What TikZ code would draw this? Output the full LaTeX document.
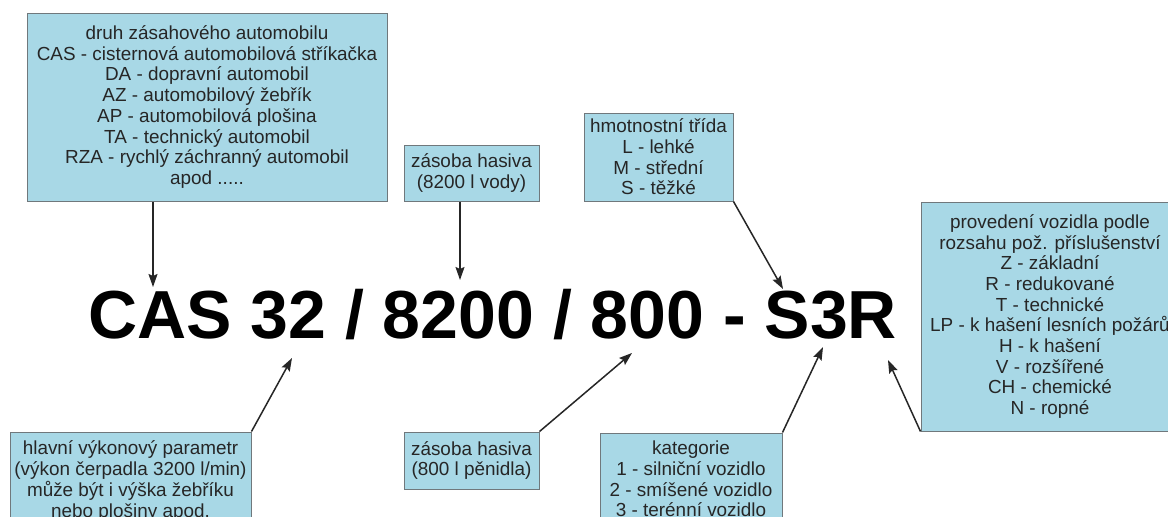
\documentclass[tikz,border=0pt]{standalone}
\usepackage{fontspec}
\setmainfont{Liberation Sans}
\usetikzlibrary{arrows.meta}
\definecolor{boxfill}{RGB}{168,216,230}
\definecolor{boxline}{RGB}{112,120,124}
\definecolor{txt}{RGB}{38,38,38}
\begin{document}
\begin{tikzpicture}[x=1pt,y=-1pt,
  note/.style={draw=boxline, line width=1pt, fill=boxfill, text=txt,
    align=center, inner sep=0pt, font=\fontsize{18.9}{20.7}\selectfont},
  arr/.style={draw=black!85, line width=1.5pt,
    -{Stealth[length=13pt,width=9pt,inset=2pt]}}]
\useasboundingbox (0,0) rectangle (1168,517);
\clip (0,0) rectangle (1168,517);
\fill[white] (0,0) rectangle (1168,517);

% the vehicle designation
\node[anchor=base west, inner sep=0pt, font=\fontsize{68}{68}\selectfont\bfseries]
  (code) at (88,338) {CAS 32 / 8200 / 800 - S3R};

% explanatory boxes, upper row
\node[note, minimum width=360pt, minimum height=188pt] (druh) at (207,107)
  {druh zásahového automobilu\\
   CAS - cisternová automobilová stříkačka\\
   DA - dopravní automobil\\
   AZ - automobilový žebřík\\
   AP - automobilová plošina\\
   TA - technický automobil\\
   RZA - rychlý záchranný automobil\\
   apod .....};
\node[note, minimum width=135pt, minimum height=56pt] (voda) at (471.5,173)
  {zásoba hasiva\\(8200 l vody)};
\node[note, minimum width=149pt, minimum height=88pt] (trida) at (658.5,157)
  {hmotnostní třída\\L - lehké\\M - střední\\S - těžké};
\node[note, minimum width=258pt, minimum height=229pt] (provedeni) at (1050,316.5)
  {provedení vozidla podle\\
   rozsahu pož. příslušenství\\
   Z - základní\\
   R - redukované\\
   T - technické\\
   LP - k hašení lesních požárů\\
   H - k hašení\\
   V - rozšířené\\
   CH - chemické\\
   N - ropné};

% explanatory boxes, lower row
\node[note, minimum width=241pt, minimum height=98pt] (vykon) at (130.5,481)
  {hlavní výkonový parametr\\
   (výkon čerpadla 3200 l/min)\\
   může být i výška žebříku\\
   nebo plošiny apod.};
\node[note, minimum width=135pt, minimum height=57pt] (peni) at (471.5,460.5)
  {zásoba hasiva\\(800 l pěnidla)};
\node[note, minimum width=182pt, minimum height=92pt] (kat) at (691,479)
  {kategorie\\
   1 - silniční vozidlo\\
   2 - smíšené vozidlo\\
   3 - terénní vozidlo};

% arrow tips pointing at the parts of the designation
\coordinate (tCAS) at (153,287);
\coordinate (t8200) at (460,280);
\coordinate (tS) at (783,289);
\coordinate (t32) at (292,358);
\coordinate (t800) at (632,353);
\coordinate (t3) at (823,347);
\coordinate (tR) at (888,360);

\draw[arr] (druh.south -| tCAS) -- (tCAS);
\draw[arr] (voda.south -| t8200) -- (t8200);
\draw[arr] (trida.south east) -- (tS);
\draw[arr] (vykon.north east) -- (t32);
\draw[arr] (peni.north east) -- (t800);
\draw[arr] (kat.north east) -- (t3);
\draw[arr] (provedeni.south west) -- (tR);
\end{tikzpicture}
\end{document}
